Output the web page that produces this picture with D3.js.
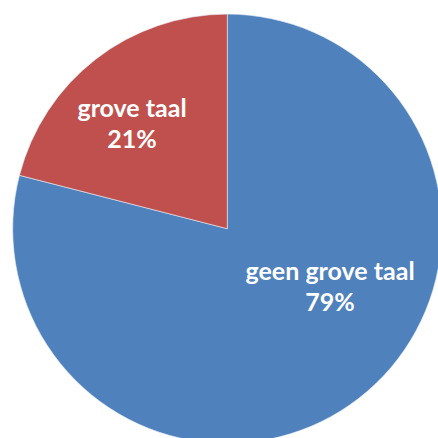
<!DOCTYPE html>
<html>
<head>
<meta charset="utf-8">
<script src="https://cdn.jsdelivr.net/npm/d3@7"></script>
<style>
  html, body { margin: 0; padding: 0; background: #fff; }
  svg { display: block; }
  .lbl { font-family: Lato, "Open Sans", sans-serif; font-weight: bold; fill: #fff; }
</style>
</head>
<body>
<div id="chart"></div>
<script>
// slices, clockwise from 12 o'clock
let categories = ["geen grove taal", "grove taal"]
let values = [79, 21]
let colors = ["#4F81BD", "#C0504D"]

let width = 438, height = 438
let cx = 227.3, cy = 228.7, radius = 214.6

// Excel "best fit" label spots: radius along the bisector, then a small nudge
let labelRadius = [122, 135]
let labelNudge = [[28, -30], [-12.5, 10.8]]

let svg = d3.select("#chart")
  .append("svg")
    .attr("width", width)
    .attr("height", height)

let g = svg.append("g")
  .attr("transform", "translate(" + cx + "," + cy + ")")

let pie = d3.pie().sort(null).value(d => d)
let arcs = pie(values)

let arc = d3.arc().innerRadius(0).outerRadius(radius)

g.selectAll("path")
  .data(arcs)
  .enter()
  .append("path")
    .attr("d", arc)
    .attr("fill", (d, i) => colors[i])
    .attr("stroke", "#e8eef6")
    .attr("stroke-width", 0.6)

let labels = g.selectAll("text")
  .data(arcs)
  .enter()
  .append("text")
    .attr("class", "lbl")
    .attr("text-anchor", "middle")
    .attr("font-size", 25)
    .attr("transform", function(d, i) {
      let la = d3.arc().innerRadius(labelRadius[i]).outerRadius(labelRadius[i])
      let c = la.centroid(d)
      return "translate(" + (c[0] + labelNudge[i][0]) + "," + (c[1] + labelNudge[i][1]) + ")"
    })

labels.append("tspan")
  .attr("x", 0)
  .attr("y", -15.5)
  .text((d, i) => categories[i])

labels.append("tspan")
  .attr("x", 0)
  .attr("y", 15.5)
  .text((d, i) => Math.round(d.data / d3.sum(values) * 100) + "%")
</script>
</body>
</html>
